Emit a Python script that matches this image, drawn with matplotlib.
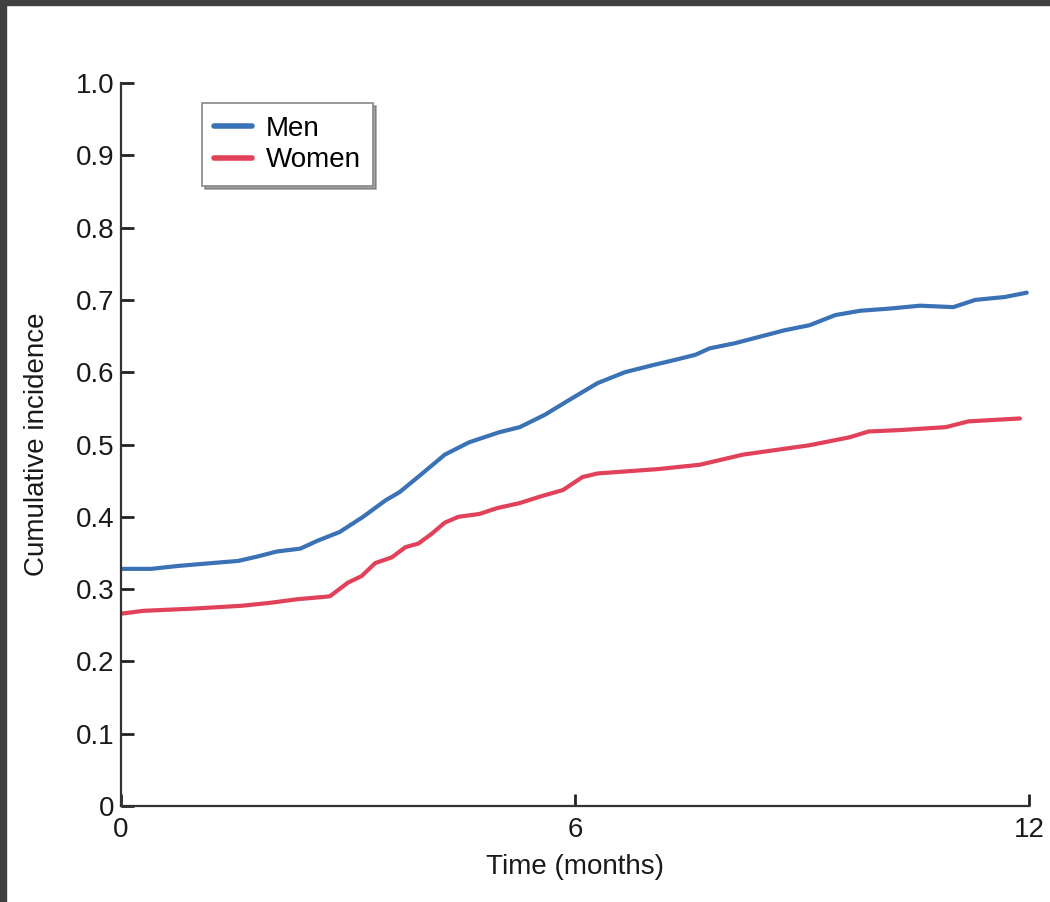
import matplotlib
matplotlib.use("Agg")
import matplotlib.pyplot as plt
from matplotlib.patches import Rectangle

# Cumulative incidence curves
men_t = [0, 0.4, 0.75, 1.2, 1.55, 1.8, 2.06, 2.37, 2.6, 2.89, 3.2, 3.5, 3.68,
         3.96, 4.28, 4.6, 5.0, 5.27, 5.6, 5.93, 6.3, 6.66, 7.0, 7.32, 7.59,
         7.78, 8.11, 8.44, 8.77, 9.1, 9.44, 9.77, 10.16, 10.56, 11.0, 11.29,
         11.68, 11.97]
men_v = [0.328, 0.328, 0.332, 0.336, 0.339, 0.345, 0.352, 0.356, 0.367, 0.379,
         0.400, 0.423, 0.434, 0.458, 0.486, 0.503, 0.517, 0.524, 0.541, 0.562,
         0.585, 0.600, 0.609, 0.617, 0.624, 0.633, 0.640, 0.649, 0.658, 0.665,
         0.679, 0.685, 0.688, 0.692, 0.690, 0.700, 0.704, 0.710]

women_t = [0, 0.3, 0.95, 1.6, 1.97, 2.33, 2.76, 3.0, 3.18, 3.36, 3.58, 3.76,
           3.93, 4.1, 4.28, 4.46, 4.74, 4.97, 5.27, 5.54, 5.84, 6.1, 6.3, 7.1,
           7.65, 8.22, 9.1, 9.63, 9.88, 10.3, 10.9, 11.2, 11.88]
women_v = [0.266, 0.270, 0.273, 0.277, 0.281, 0.286, 0.290, 0.309, 0.318,
           0.336, 0.344, 0.358, 0.363, 0.376, 0.392, 0.400, 0.404, 0.412,
           0.419, 0.428, 0.437, 0.455, 0.460, 0.466, 0.472, 0.486, 0.499,
           0.510, 0.518, 0.520, 0.524, 0.532, 0.536]

x_ticks = [0, 6, 12]
y_ticks = [0, 0.1, 0.2, 0.3, 0.4, 0.5, 0.6, 0.7, 0.8, 0.9, 1.0]
y_tick_labels = ["0", "0.1", "0.2", "0.3", "0.4", "0.5", "0.6", "0.7", "0.8", "0.9", "1.0"]

plt.rcParams['font.family'] = ['Liberation Sans', 'DejaVu Sans']

fig = plt.figure(figsize=(10.5, 9.02), dpi=100)
ax = fig.add_axes([0.1152, 0.1064, 0.8648, 0.8016])

ax.plot(men_t, men_v, color="#3a72b5", lw=3, label="Men",
        solid_capstyle="round", solid_joinstyle="round")
ax.plot(women_t, women_v, color="#e2415a", lw=3, label="Women",
        solid_capstyle="round", solid_joinstyle="round")

ax.set_xlim(0, 12)
ax.set_ylim(0, 1)
ax.set_xticks(x_ticks)
ax.set_yticks(y_ticks)
ax.set_yticklabels(y_tick_labels)

for side in ["top", "right"]:
    ax.spines[side].set_visible(False)
for side in ["left", "bottom"]:
    ax.spines[side].set_color("#333333")
    ax.spines[side].set_linewidth(1.6)

ax.tick_params(direction="in", length=9, width=2, color="#222222",
               labelsize=20, labelcolor="#1a1a1a")
ax.tick_params(axis="x", pad=8)
ax.tick_params(axis="y", pad=5)
ax.set_xlabel("Time (months)", fontsize=20, color="#1a1a1a", labelpad=8)
ax.set_ylabel("Cumulative incidence", fontsize=20, color="#1a1a1a", labelpad=18)

leg = ax.legend(loc="upper left", bbox_to_anchor=(0.089, 0.972), borderaxespad=0,
                fontsize=20, frameon=True, fancybox=False, shadow=True,
                handlelength=1.35, handletextpad=0.5, labelspacing=0.2,
                borderpad=0.45)
leg.get_frame().set_edgecolor("#888888")
leg.get_frame().set_linewidth(1.2)
for line in leg.get_lines():
    line.set_linewidth(4)

# dark screenshot border on top and left
fig.add_artist(Rectangle((0, 1 - 5 / 902), 1, 5 / 902, transform=fig.transFigure,
                         color="#404040", zorder=10))
fig.add_artist(Rectangle((0, 0), 6 / 1050, 1, transform=fig.transFigure,
                         color="#404040", zorder=10))

fig.savefig("out.png", dpi=100)
